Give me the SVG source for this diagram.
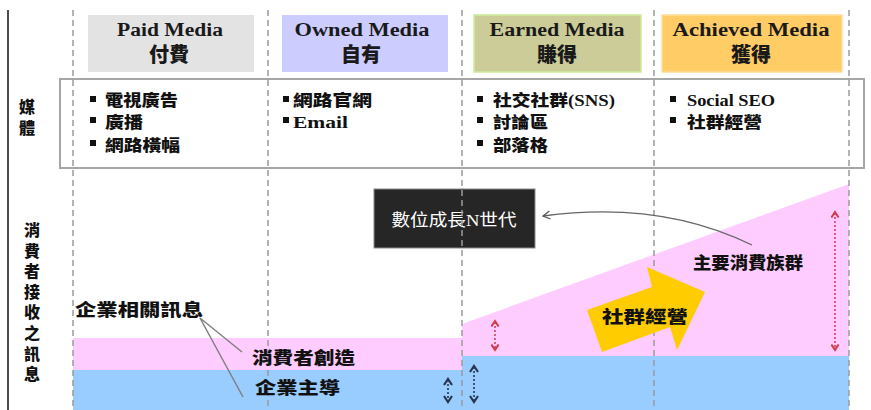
<svg xmlns="http://www.w3.org/2000/svg" width="871" height="410" viewBox="0 0 871 410">
<defs>
<style>
.hd{font-family:'Liberation Serif','Noto Sans CJK TC',serif;font-weight:700;font-size:18px;fill:#1a1a1a;text-anchor:middle}
.hz{font-family:'Noto Sans CJK TC','Liberation Serif',sans-serif;font-weight:900;font-size:20px;fill:#1a1a1a;text-anchor:middle}
.it{font-family:'Liberation Serif','Noto Sans CJK TC',serif;font-weight:900;font-size:16px;fill:#111}
.lb{font-family:'Noto Sans CJK TC',sans-serif;font-weight:900;font-size:17px;fill:#111}
.vl{font-family:'Noto Sans CJK TC',sans-serif;font-weight:900;font-size:16px;fill:#111;writing-mode:vertical-rl;text-anchor:start}
.dash{stroke:#9a9a9a;stroke-width:1.5;stroke-dasharray:6 4;fill:none}
.bul{fill:#111}
.red{stroke:#d03a4a;stroke-width:1.5;stroke-dasharray:2 2;fill:none}
.navy{stroke:#2a3550;stroke-width:1.6;stroke-dasharray:2 2;fill:none}
.lead{stroke:#808080;stroke-width:1.5;fill:none}
</style>
<marker id="mr" viewBox="0 0 10 10" refX="6" refY="5" markerWidth="9" markerHeight="9" orient="auto-start-reverse" markerUnits="userSpaceOnUse">
<path d="M1,1 L7,5 L1,9" fill="none" stroke="#d03a4a" stroke-width="2.2"/>
</marker>
<marker id="mn" viewBox="0 0 10 10" refX="6" refY="5" markerWidth="10" markerHeight="10" orient="auto-start-reverse" markerUnits="userSpaceOnUse">
<path d="M1,1 L7,5 L1,9" fill="none" stroke="#2a3550" stroke-width="2.2"/>
</marker>
<marker id="mg" viewBox="0 0 10 10" refX="8" refY="5" markerWidth="10" markerHeight="10" orient="auto" markerUnits="userSpaceOnUse">
<path d="M1,1 L8,5 L1,9" fill="none" stroke="#555" stroke-width="1.3"/>
</marker>
</defs>
<rect width="871" height="410" fill="#fff"/>
<line x1="8" y1="10" x2="8" y2="410" stroke="#111" stroke-width="1.5"/>

<g id="bands">
<rect x="73" y="338" width="389" height="32" fill="#ffccff"/>
<rect x="73" y="370" width="389" height="40" fill="#99ccff"/>
<polygon points="462,324 849,184 849,356 462,356" fill="#ffccff"/>
<rect x="462" y="356" width="387" height="54" fill="#99ccff"/>
</g>

<g id="digital-n">
<rect x="374" y="189" width="161" height="59" fill="#262626" stroke="#8a8a8a" stroke-width="1"/>
<text x="454" y="226" font-family="'Liberation Serif','Noto Sans CJK TC',serif" font-size="17" fill="#fff" text-anchor="middle" textLength="125" lengthAdjust="spacingAndGlyphs">數位成長N世代</text>
</g>

<g id="media-box">
<rect x="60" y="79" width="804" height="89" fill="none" stroke="#a6a6a6" stroke-width="2"/>
</g>

<g id="grid">
<line class="dash" x1="73" y1="10" x2="73" y2="410"/>
<line class="dash" x1="268" y1="10" x2="268" y2="410"/>
<line class="dash" x1="462" y1="10" x2="462" y2="410"/>
<line class="dash" x1="654" y1="10" x2="654" y2="410"/>
<line class="dash" x1="849" y1="10" x2="849" y2="410"/>
</g>

<g id="paid">
<rect x="88" y="15" width="166" height="57" fill="#e3e3e3"/>
<text class="hd" x="170" y="36" textLength="106" lengthAdjust="spacingAndGlyphs">Paid Media</text>
<text class="hz" x="169" y="62">付費</text>
</g>
<g id="owned">
<rect x="282" y="15" width="166" height="57" fill="#ccccff"/>
<text class="hd" x="362" y="36" textLength="135" lengthAdjust="spacingAndGlyphs">Owned Media</text>
<text class="hz" x="361" y="62">自有</text>
</g>
<g id="earned">
<rect x="474" y="15" width="167" height="57" fill="#cccc99" stroke="#ccee99" stroke-width="1.5"/>
<text class="hd" x="557" y="36" textLength="135" lengthAdjust="spacingAndGlyphs">Earned Media</text>
<text class="hz" x="557" y="62">賺得</text>
</g>
<g id="achieved">
<rect x="662" y="15" width="180" height="57" fill="#ffcc66" stroke="#ffdd99" stroke-width="1.5"/>
<text class="hd" x="751" y="36" textLength="157" lengthAdjust="spacingAndGlyphs">Achieved Media</text>
<text class="hz" x="751" y="62">獲得</text>
</g>

<g id="media-label">
<text class="vl" x="27" y="99" style="letter-spacing:5px">媒體</text>
</g>

<g id="paid-items">
<rect class="bul" x="90" y="96" width="6" height="6"/>
<rect class="bul" x="90" y="117" width="6" height="6"/>
<rect class="bul" x="90" y="140" width="6" height="6"/>
<text class="it" x="105" y="106" textLength="73" lengthAdjust="spacingAndGlyphs">電視廣告</text>
<text class="it" x="105" y="128" textLength="38" lengthAdjust="spacingAndGlyphs">廣播</text>
<text class="it" x="105" y="151" textLength="75" lengthAdjust="spacingAndGlyphs">網路橫幅</text>
</g>
<g id="owned-items">
<rect class="bul" x="283" y="96" width="6" height="6"/>
<rect class="bul" x="283" y="117" width="6" height="6"/>
<text class="it" x="293" y="106" textLength="79" lengthAdjust="spacingAndGlyphs">網路官網</text>
<text class="it" x="293" y="128" textLength="55" lengthAdjust="spacingAndGlyphs">Email</text>
</g>
<g id="earned-items">
<rect class="bul" x="477" y="96" width="6" height="6"/>
<rect class="bul" x="477" y="117" width="6" height="6"/>
<rect class="bul" x="477" y="140" width="6" height="6"/>
<text class="it" x="493" y="106" textLength="122" lengthAdjust="spacingAndGlyphs">社交社群(SNS)</text>
<text class="it" x="493" y="128" textLength="55" lengthAdjust="spacingAndGlyphs">討論區</text>
<text class="it" x="493" y="151" textLength="55" lengthAdjust="spacingAndGlyphs">部落格</text>
</g>
<g id="achieved-items">
<rect class="bul" x="670" y="96" width="6" height="6"/>
<rect class="bul" x="670" y="117" width="6" height="6"/>
<text class="it" x="687" y="106" textLength="88" lengthAdjust="spacingAndGlyphs">Social SEO</text>
<text class="it" x="687" y="128" textLength="75" lengthAdjust="spacingAndGlyphs">社群經營</text>
</g>

<g id="message-label">
<text class="vl" x="32" y="222" style="letter-spacing:4.6px">消費者接收之訊息</text>
</g>

<g id="growth-arrow">
<polygon points="587,310 652,287 647,267 705,292 677,350 670,327 602,352" fill="#ffcc00"/>
<text class="lb" x="602" y="323" textLength="86" lengthAdjust="spacingAndGlyphs">社群經營</text>
</g>

<g id="main-group">
<text class="lb" x="693" y="269" font-size="15" textLength="110" lengthAdjust="spacingAndGlyphs">主要消費族群</text>
</g>
<g id="corp-info">
<text class="lb" x="75" y="316" textLength="128" lengthAdjust="spacingAndGlyphs">企業相關訊息</text>
</g>
<g id="consumer-created">
<text class="lb" x="252" y="364" textLength="103" lengthAdjust="spacingAndGlyphs">消費者創造</text>
</g>
<g id="corp-led">
<text class="lb" x="255" y="394" textLength="85" lengthAdjust="spacingAndGlyphs">企業主導</text>
</g>

<g id="connectors">
<path d="M752,245 Q660,200 543,216" stroke="#666" stroke-width="1.3" fill="none" marker-end="url(#mg)"/>
<line class="lead" x1="200" y1="318" x2="242" y2="352"/>
<line class="lead" x1="200" y1="318" x2="243" y2="397"/>
<line class="red" x1="495" y1="322" x2="495" y2="349" marker-start="url(#mr)" marker-end="url(#mr)"/>
<line class="red" x1="835" y1="213" x2="835" y2="349" marker-start="url(#mr)" marker-end="url(#mr)"/>
<line class="navy" x1="448" y1="380" x2="448" y2="401" marker-start="url(#mn)" marker-end="url(#mn)"/>
<line class="navy" x1="474" y1="367" x2="474" y2="401" marker-start="url(#mn)" marker-end="url(#mn)"/>
</g>
</svg>
